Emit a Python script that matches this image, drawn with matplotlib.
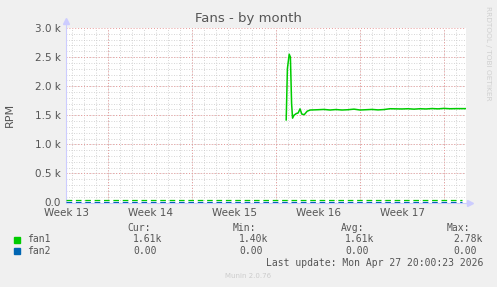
import numpy as np
import matplotlib.pyplot as plt
from matplotlib.ticker import FixedLocator

# data (time in days from left edge of graph, RPM)
week_labels = ["Week 13", "Week 14", "Week 15", "Week 16", "Week 17"]
week_pos = [0.05, 7.05, 14.05, 21.05, 28.05]
fan1_t = [18.35, 18.45, 18.6, 18.7, 18.8, 18.88, 19.0, 19.2, 19.35, 19.5, 19.65, 19.85,
          20.1, 20.35, 21.0, 21.5, 22.0, 22.5, 23.0, 23.5, 24.0, 24.5, 25.0, 25.5, 26.0,
          26.5, 27.0, 27.5, 28.0, 28.5, 29.0, 29.5, 30.0, 30.5, 31.0, 31.5, 32.0, 32.5, 33.3]
fan1_v = [1420, 2300, 2550, 2500, 1700, 1450, 1500, 1530, 1540, 1610, 1520, 1510,
          1570, 1590, 1595, 1600, 1590, 1598, 1590, 1595, 1605, 1590, 1595, 1600, 1592,
          1598, 1612, 1610, 1608, 1612, 1605, 1612, 1608, 1615, 1610, 1618, 1612, 1614, 1614]
base_t = [0, 33.0]
fan1_base = [40, 40]
fan2_base = [16, 16]
yticks = [0, 500, 1000, 1500, 2000, 2500, 3000]
ylabels = ["0.0", "0.5 k", "1.0 k", "1.5 k", "2.0 k", "2.5 k", "3.0 k"]
stats_head = ["Cur:", "Min:", "Avg:", "Max:"]
fan1_stats = ["1.61k", "1.40k", "1.61k", "2.78k"]
fan2_stats = ["0.00", "0.00", "0.00", "0.00"]

W, H = 497, 287
fig = plt.figure(figsize=(W/100, H/100), dpi=100, facecolor="#f0f0f0")
ax = fig.add_axes([66/W, 1-202.5/H, 400/W, 174.5/H], facecolor="white")
xmax = 400/12
ax.set_xlim(0, xmax)
ax.set_ylim(0, 3000)

# grid
for d in np.arange(0.5, xmax, 1):
    ax.axvline(d, color="#c8c8c8", lw=0.6, ls=(0, (1, 2)), zorder=1)
for v in range(100, 3000, 100):
    ax.axhline(v, color="#c8c8c8", lw=0.6, ls=(0, (1, 2)), zorder=1)
for d in np.arange(3.5, xmax, 7):
    ax.axvline(d, color="#e89a9a", lw=0.7, ls=(0, (1, 2)), zorder=2)
for v in yticks[1:]:
    ax.axhline(v, color="#e89a9a", lw=0.7, ls=(0, (1, 2)), zorder=2)

ax.plot(fan1_t, fan1_v, color="#00cc00", lw=1.1, zorder=5)
ax.plot(base_t, fan1_base, color="#00cc00", lw=0.9, dashes=(4.5, 3.0), zorder=4)
ax.plot(base_t, fan2_base, color="#0066b3", lw=0.9, dashes=(4.5, 3.0), zorder=6)

ax.xaxis.set_major_locator(FixedLocator(week_pos))
ax.set_xticklabels(week_labels)
ax.set_yticks(yticks)
ax.set_yticklabels(ylabels)
ax.tick_params(length=0, labelsize=7.5, colors="#555555")
ax.tick_params(axis="x", pad=4)
ax.tick_params(axis="y", pad=3.5)
for s in ["top", "right"]:
    ax.spines[s].set_visible(False)
for s in ["left", "bottom"]:
    ax.spines[s].set_color("#ccccff")
ax.plot([0], [1.04], marker="^", ms=4, color="#ccccff", transform=ax.transAxes, clip_on=False)
ax.plot([1.01], [0], marker=">", ms=4, color="#ccccff", transform=ax.transAxes, clip_on=False)
ax.plot([0, 0], [1, 1.04], color="#ccccff", lw=0.8, transform=ax.transAxes, clip_on=False)
ax.plot([1, 1.01], [0, 0], color="#ccccff", lw=0.8, transform=ax.transAxes, clip_on=False)

txt = "#555555"
fig.text(248.5/W, 1-18.5/H, "Fans - by month", ha="center", va="center", fontsize=9.5, color=txt)
fig.text(10/W, 1-115/H, "RPM", ha="center", va="center", rotation=90, fontsize=8, color=txt)
fig.text(488/W, 1-6/H, "RRDTOOL / TOBI OETIKER", ha="center", va="top", rotation=270,
         fontsize=5.3, color="#d0d0d0")

mono = dict(family="DejaVu Sans Mono", fontsize=7, color=txt, va="center")
for x, h in zip([127, 233, 341, 447], stats_head):
    fig.text(x/W, 1-228/H, h, **mono)
for x, a, b in zip([133, 239, 345, 453], fan1_stats, fan2_stats):
    fig.text(x/W, 1-239.5/H, a, **mono)
    fig.text(x/W, 1-251/H, b, **mono)
fig.text(27/W, 1-239.5/H, "fan1", **mono)
fig.text(27/W, 1-251/H, "fan2", **mono)
fig.patches.append(plt.Rectangle((14/W, 1-242.5/H), 6/W, 6/H, color="#00cc00", transform=fig.transFigure))
fig.patches.append(plt.Rectangle((14/W, 1-254/H), 6/W, 6/H, color="#0066b3", transform=fig.transFigure))
fig.text(483/W, 1-263/H, "Last update: Mon Apr 27 20:00:23 2026", ha="right", **mono)
fig.text(248/W, 1-276/H, "Munin 2.0.76", ha="center", va="center", fontsize=5, color="#cccccc")

fig.savefig("out.png", dpi=100, facecolor=fig.get_facecolor())
